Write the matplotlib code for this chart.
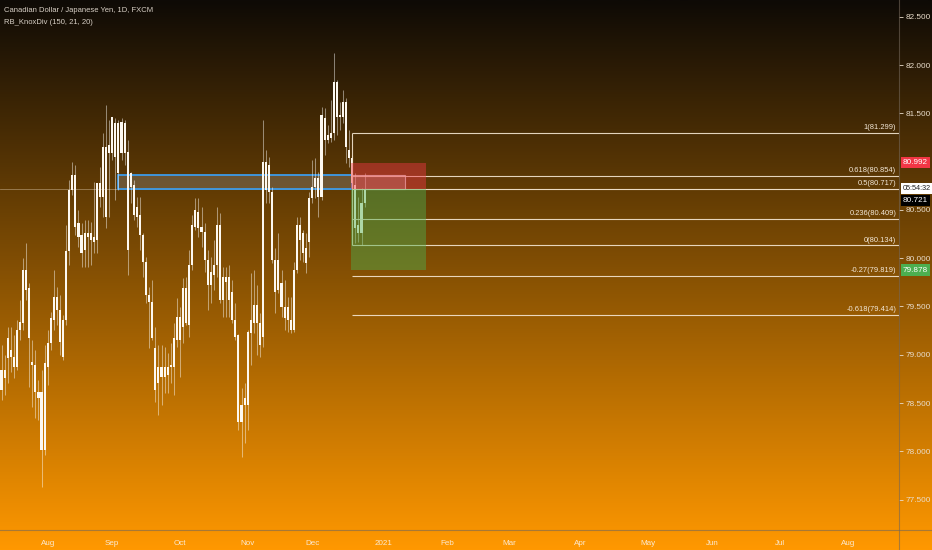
import matplotlib
matplotlib.use("Agg")
import matplotlib.pyplot as plt
import matplotlib.transforms as mtransforms
from matplotlib.patches import Rectangle
from matplotlib.lines import Line2D
import numpy as np
import pandas as pd

plt.rcParams['font.family'] = ['Liberation Sans', 'DejaVu Sans']

##################################################
# Data (CAD/JPY daily, FXCM)
##################################################
first_day = "2020-07-13"

opens = [78.63, 78.84, 78.97, 79.05, 78.98, 78.87, 79.26, 79.33, 79.88, 79.69,
         78.92, 78.89, 78.61, 78.61, 78.01, 78.87, 79.12, 79.36, 79.60, 79.46,
         78.98, 79.36, 80.07, 80.71, 80.86, 80.37, 80.24, 80.09, 80.26, 80.19,
         80.22, 80.19, 80.78, 80.63, 81.15, 81.09, 81.09, 81.40, 80.88, 81.41,
         81.09, 81.10, 80.88, 80.76, 80.43, 80.45, 80.24, 79.96, 79.62, 79.55,
         79.07, 78.71, 78.87, 78.77, 78.87, 78.87, 78.87, 79.15, 79.39, 79.29,
         79.69, 79.31, 79.93, 80.32, 80.48, 80.32, 80.27, 79.98, 79.72, 79.83,
         79.93, 80.34, 79.57, 79.81, 79.81, 79.65, 79.36, 79.20, 78.30, 78.48,
         78.48, 79.23, 79.33, 79.52, 79.33, 79.18, 81.00, 80.69, 80.69, 79.98,
         79.67, 79.74, 79.49, 79.36, 79.36, 79.26, 79.88, 80.34, 80.26, 80.11,
         80.17, 80.62, 80.74, 80.83, 80.63, 81.45, 81.23, 81.25, 81.30, 81.83,
         81.46, 81.46, 81.62, 81.12, 81.04, 80.76, 80.34, 80.26, 80.57]
highs = [79.10, 79.00, 79.29, 79.29, 79.20, 79.36, 79.57, 80.00, 80.16, 79.74,
         79.15, 79.05, 78.74, 78.84, 79.10, 79.26, 79.44, 79.88, 79.70, 79.62,
         79.41, 80.34, 80.81, 81.00, 80.97, 80.50, 80.37, 80.40, 80.40, 80.38,
         80.79, 80.78, 80.95, 81.30, 81.59, 81.43, 81.46, 81.45, 81.43, 81.45,
         81.43, 81.23, 80.89, 80.81, 80.63, 80.63, 80.26, 80.01, 79.70, 79.77,
         79.29, 79.10, 79.10, 79.08, 79.02, 79.12, 79.33, 79.59, 79.49, 79.80,
         79.81, 80.09, 80.45, 80.62, 80.62, 80.53, 80.37, 80.09, 80.01, 80.19,
         80.53, 80.47, 79.91, 79.91, 79.93, 79.77, 79.54, 79.22, 78.66, 78.71,
         79.26, 79.85, 79.88, 79.72, 79.43, 81.43, 81.12, 81.05, 80.74, 80.11,
         80.26, 79.88, 79.77, 79.60, 79.60, 79.96, 80.43, 80.43, 80.29, 80.26,
         80.69, 81.02, 81.04, 80.89, 81.57, 81.56, 81.38, 81.64, 82.13, 81.85,
         81.62, 81.74, 81.66, 81.33, 81.07, 80.88, 80.63, 80.73, 80.88]
lows = [78.53, 78.58, 78.71, 78.82, 78.76, 78.84, 79.15, 79.26, 79.57, 78.67,
        78.46, 78.34, 78.32, 77.63, 77.96, 78.69, 79.05, 79.26, 79.31, 79.00,
        78.95, 79.31, 79.93, 80.66, 80.24, 80.12, 79.91, 79.91, 79.91, 79.93,
        80.05, 80.05, 80.53, 80.43, 80.31, 80.43, 81.02, 80.60, 80.71, 81.02,
        80.97, 79.83, 80.57, 80.40, 80.32, 80.09, 79.81, 79.54, 79.07, 79.15,
        78.51, 78.38, 78.48, 78.60, 78.60, 78.71, 78.58, 79.08, 78.77, 79.12,
        79.31, 79.18, 79.88, 80.29, 80.22, 80.12, 79.86, 79.46, 79.54, 79.67,
        79.81, 79.54, 79.39, 79.39, 79.39, 79.33, 79.15, 78.22, 77.94, 78.09,
        78.22, 78.89, 79.23, 79.00, 78.98, 79.08, 80.57, 80.57, 79.95, 79.43,
        79.64, 79.39, 79.26, 79.24, 79.23, 79.24, 79.85, 79.98, 79.96, 79.85,
        80.01, 80.57, 80.62, 80.43, 80.60, 81.07, 81.19, 81.20, 81.23, 81.28,
        81.33, 81.40, 80.99, 80.95, 80.74, 80.16, 80.17, 80.14, 80.53]
closes = [78.84, 78.76, 79.17, 78.98, 78.87, 79.26, 79.34, 79.88, 79.67, 79.17,
          78.89, 78.61, 78.55, 78.01, 78.91, 79.12, 79.38, 79.60, 79.46, 79.13,
          79.36, 80.07, 80.71, 80.86, 80.32, 80.22, 80.05, 80.26, 80.22, 80.26,
          80.17, 80.78, 80.63, 81.15, 80.43, 81.17, 81.46, 81.05, 81.40, 81.09,
          81.40, 80.09, 80.74, 80.45, 80.53, 80.24, 79.96, 79.62, 79.55, 79.17,
          78.63, 78.87, 78.77, 78.87, 78.79, 78.89, 79.17, 79.39, 79.15, 79.69,
          79.33, 79.93, 80.34, 80.50, 80.31, 80.27, 79.98, 79.72, 79.86, 79.93,
          80.34, 79.57, 79.81, 79.75, 79.57, 79.36, 79.18, 78.30, 78.48, 78.55,
          79.24, 79.36, 79.52, 79.33, 79.10, 81.00, 80.71, 80.97, 79.98, 79.65,
          79.98, 79.49, 79.38, 79.49, 79.26, 79.88, 80.34, 80.19, 80.05, 79.95,
          80.62, 80.74, 80.83, 80.63, 81.48, 81.23, 81.28, 81.30, 81.83, 81.46,
          81.48, 81.62, 81.15, 81.04, 80.78, 80.31, 80.26, 80.57, 80.72]

last_price = 80.721
countdown = "05:54:32"

# fibonacci retracement drawn from Dec 18
fib_levels = ["1", "0.618", "0.5", "0.236", "0", "-0.27", "-0.618"]
fib_prices = [81.299, 80.854, 80.717, 80.409, 80.134, 79.819, 79.414]
fib_start = "2020-12-18"

# supply/demand zone
zone_start, zone_mid, zone_end = "2020-09-03", "2020-12-18", "2021-01-12"
zone_low, zone_high = 80.72, 80.86

# short position tool
pos_start, pos_end = "2020-12-18", "2021-01-21"
entry, stop, target = 80.72, 80.992, 79.878

# 81.000 sits under the stop label, so it is not listed
yticks = [77.5, 78.0, 78.5, 79.0, 79.5, 80.0, 80.5, 81.5, 82.0, 82.5]

##################################################
# Helpers
##################################################
dates = pd.bdate_range(first_day, periods=300)
def idx(d):
    return dates.get_loc(pd.Timestamp(d))

W, H = 932, 550
fig = plt.figure(figsize=(W / 100, H / 100), dpi=100)

# gradient background over the whole figure
bg = fig.add_axes([0, 0, 1, 1], zorder=-10)
top = np.array([14, 10, 6]) / 255
bot = np.array([255, 152, 0]) / 255
t = np.linspace(0, 1, 256)[:, None]
grad = (top[None, :] * (1 - t) + bot[None, :] * t)[:, None, :]
bg.imshow(grad, aspect='auto', extent=[0, 1, 0, 1])
bg.axis('off')

ax = fig.add_axes([0, 20 / H, 899 / W, 530 / H])
ax.set_facecolor('none')
for s in ax.spines.values():
    s.set_visible(False)

x = np.arange(len(closes))
o = np.array(opens); c = np.array(closes)
btop = np.maximum(o, c)
bbot = np.minimum(o, c)
bh = np.maximum(btop - bbot, 0.015)

# candles
ax.vlines(x, lows, highs, color=(1, 1, 1, 0.45), linewidth=0.75, zorder=3)
ax.bar(x, bh, bottom=bbot, width=0.68, color='#fdf8f0', linewidth=0, zorder=4)

# current price line
ax.axhline(last_price, color=(1, 0.95, 0.85, 0.4), linewidth=0.6, zorder=2)

# zone
zs, zm, ze = idx(zone_start), idx(zone_mid), idx(zone_end)
ax.add_patch(Rectangle((zs, zone_low), zm - zs, zone_high - zone_low,
                       facecolor=(0.55, 0.55, 0.55, 0.35), edgecolor='#3d9be9',
                       linewidth=1.3, zorder=2))
ax.add_patch(Rectangle((zm, zone_low), ze - zm, zone_high - zone_low,
                       facecolor=(0.7, 0.7, 0.7, 0.35), edgecolor=(0.9, 0.9, 0.9, 0.8),
                       linewidth=0.8, zorder=2))

# fibonacci (under the position boxes)
fs = idx(fib_start)
xmax = 291.7
fib_col = (0.96, 0.9, 0.82, 0.9)
ax.vlines(fs, fib_prices[4], fib_prices[0], color=fib_col, linewidth=0.8, zorder=4.5)
trans_lab = mtransforms.blended_transform_factory(ax.transAxes, ax.transData)
for lev, p in zip(fib_levels, fib_prices):
    ax.hlines(p, fs, xmax, color=fib_col, linewidth=0.8, zorder=4.5)
    ax.text(0.997, p + 0.018, "%s(%.3f)" % (lev, p), transform=trans_lab,
            ha='right', va='bottom', fontsize=5.4, color='#f3e8d8', zorder=7)

# position boxes
ps, pe = idx(pos_start) - 0.5, idx(pos_end)
ax.add_patch(Rectangle((ps, entry), pe - ps, stop - entry,
                       facecolor=(0.95, 0.21, 0.27, 0.45), linewidth=0, zorder=5))
ax.add_patch(Rectangle((ps, target), pe - ps, entry - target,
                       facecolor=(0.30, 0.69, 0.31, 0.45), linewidth=0, zorder=5))

ax.set_xlim(-0.5, xmax)
ax.set_ylim(77.184, 82.676)

# time axis
ticks, labels = [], []
for i in range(1, len(dates)):
    if dates[i].month != dates[i - 1].month and i < xmax:
        ticks.append(i)
        labels.append('2021' if dates[i].month == 1 else dates[i].strftime('%b'))
ax.set_xticks(ticks)
ax.set_xticklabels(labels)
ax.tick_params(axis='x', length=0, pad=7, labelsize=5.8, labelcolor='#fbe9d0')

# price axis
ax.yaxis.tick_right()
ax.set_yticks(yticks)
ax.set_yticklabels(["%.3f" % v for v in yticks])
ax.tick_params(axis='y', length=3, width=0.6, pad=2, labelsize=5.9,
               colors='#e9dccb')

# price labels on the axis
def axis_label(price, text, fc, tc, size=5.9):
    ax.text(1.0 + 4 / 899, price, text, transform=trans_lab, ha='left', va='center',
            fontsize=size, color=tc, clip_on=False, zorder=10,
            bbox=dict(boxstyle='square,pad=0.25', fc=fc, ec='none'))

axis_label(stop, "%.3f" % stop, '#f23645', 'white')
axis_label(target, "%.3f" % target, '#4caf50', 'white')
axis_label(last_price, countdown, 'white', '#222222', size=5.2)
axis_label(last_price - 0.12, "%.3f" % last_price, 'black', 'white')

# panel separators
sep = (0.45, 0.4, 0.35, 0.6)
fig.add_artist(Line2D([899 / W, 899 / W], [0, 1], color=sep, linewidth=0.8))
fig.add_artist(Line2D([0, 1], [20 / H, 20 / H], color=sep, linewidth=0.8))

# header
fig.text(4 / W, 1 - 10 / H, "Canadian Dollar / Japanese Yen, 1D, FXCM",
         fontsize=5.5, color='#d8d0c6', va='center')
fig.text(4 / W, 1 - 23 / H, "RB_KnoxDiv (150, 21, 20)",
         fontsize=5.5, color='#d8d0c6', va='center')

fig.savefig("out.png", dpi=100)
